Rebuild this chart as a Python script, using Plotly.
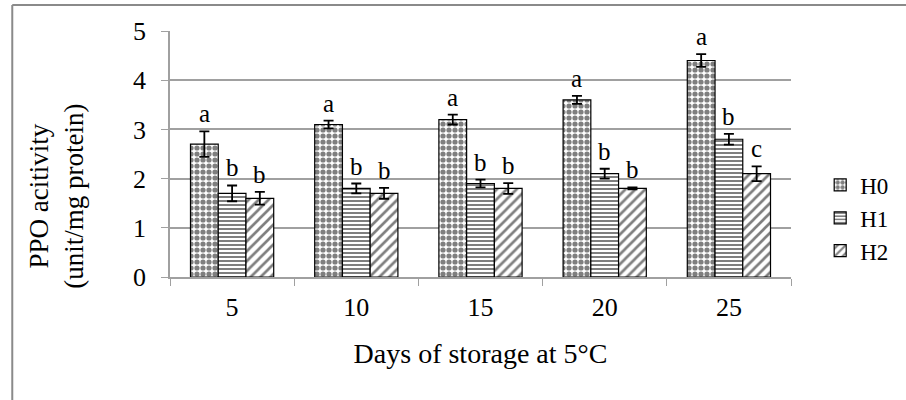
import plotly.graph_objects as go

days = ["5", "10", "15", "20", "25"]
series_names = ["H0", "H1", "H2"]
h0 = [2.7, 3.1, 3.2, 3.6, 4.4]
h1 = [1.7, 1.8, 1.9, 2.1, 2.8]
h2 = [1.6, 1.7, 1.8, 1.8, 2.1]
h0_err = [0.26, 0.08, 0.1, 0.08, 0.13]
h1_err = [0.16, 0.1, 0.08, 0.1, 0.11]
h2_err = [0.13, 0.11, 0.11, 0.02, 0.15]
h0_letters = ["a", "a", "a", "a", "a"]
h1_letters = ["b", "b", "b", "b", "b"]
h2_letters = ["b", "b", "b", "b", "c"]
y_ticks = [0, 1, 2, 3, 4, 5]

FONT = "Liberation Serif"
values = [h0, h1, h2]
errors = [h0_err, h1_err, h2_err]
letters = [h0_letters, h1_letters, h2_letters]
patterns = [
    dict(shape=".", fgcolor="black", bgcolor="white", size=6, solidity=0.6, fillmode="overlay"),
    dict(shape="-", fgcolor="black", bgcolor="white", size=4, solidity=0.5, fillmode="overlay"),
    dict(shape="/", fgcolor="black", bgcolor="white", size=7, solidity=0.38, fillmode="overlay"),
]

BARGAP = 0.33
fig = go.Figure()
for k in range(3):
    fig.add_trace(go.Bar(
        name=series_names[k], x=days, y=values[k],
        marker=dict(color="white", pattern=patterns[k], line=dict(color="black", width=1.2)),
        error_y=dict(type="data", array=errors[k], color="black", thickness=1.8, width=5),
    ))

w = (1 - BARGAP) / 3
annotations = []
for k in range(3):
    for i in range(len(days)):
        annotations.append(dict(
            x=i + (k - 1) * w, y=values[k][i] + errors[k][i], xref="x", yref="y",
            text=letters[k][i], showarrow=False, yanchor="bottom", yshift=2,
            font=dict(family=FONT, size=25, color="black"),
        ))

# y-axis title (placed lower than the plot centre, as in the original)
annotations.append(dict(
    x=-0.182, y=0.33, xref="paper", yref="paper", xanchor="center", yanchor="middle",
    text="PPO acitivity<br>(unit/mg protein)", textangle=-90, showarrow=False,
    font=dict(family=FONT, size=27, color="black"),
))

fig.update_layout(
    width=906, height=400,
    margin=dict(l=170, r=110, t=31, b=123),
    paper_bgcolor="white", plot_bgcolor="white",
    barmode="group", bargap=BARGAP, bargroupgap=0,
    font=dict(family=FONT, color="black"),
    annotations=annotations,
    showlegend=True,
    legend=dict(x=1.047, y=0.24, yanchor="middle", xanchor="left",
                font=dict(family=FONT, size=23, color="black"),
                bgcolor="rgba(0,0,0,0)", itemwidth=30, tracegroupgap=0),
    shapes=[
        dict(type="line", xref="paper", yref="paper", x0=-0.254, x1=1.2, y0=1.106, y1=1.106,
             line=dict(color="#8a8a8a", width=2)),
        dict(type="line", xref="paper", yref="paper", x0=-0.254, x1=-0.254, y0=-0.6, y1=1.106,
             line=dict(color="#8a8a8a", width=2)),
    ],
)
fig.update_xaxes(
    showline=True, linecolor="#a0a0a0", linewidth=1.5,
    ticks="outside", tickson="boundaries", ticklen=7, tickcolor="#a0a0a0",
    tickfont=dict(family=FONT, size=26, color="black"), ticklabelstandoff=6,
    title=dict(text="Days of storage at 5°C", font=dict(family=FONT, size=28, color="black"), standoff=22),
    showgrid=False,
)
fig.update_yaxes(
    range=[0, 5], tickvals=y_ticks, showline=True, linecolor="#a0a0a0", linewidth=1.5,
    ticks="outside", ticklen=7, tickcolor="#a0a0a0",
    showgrid=True, gridcolor="#a0a0a0", gridwidth=1.5, zeroline=False,
    tickfont=dict(family=FONT, size=26, color="black"), ticklabelstandoff=10,
)

fig.write_html("out.html")
